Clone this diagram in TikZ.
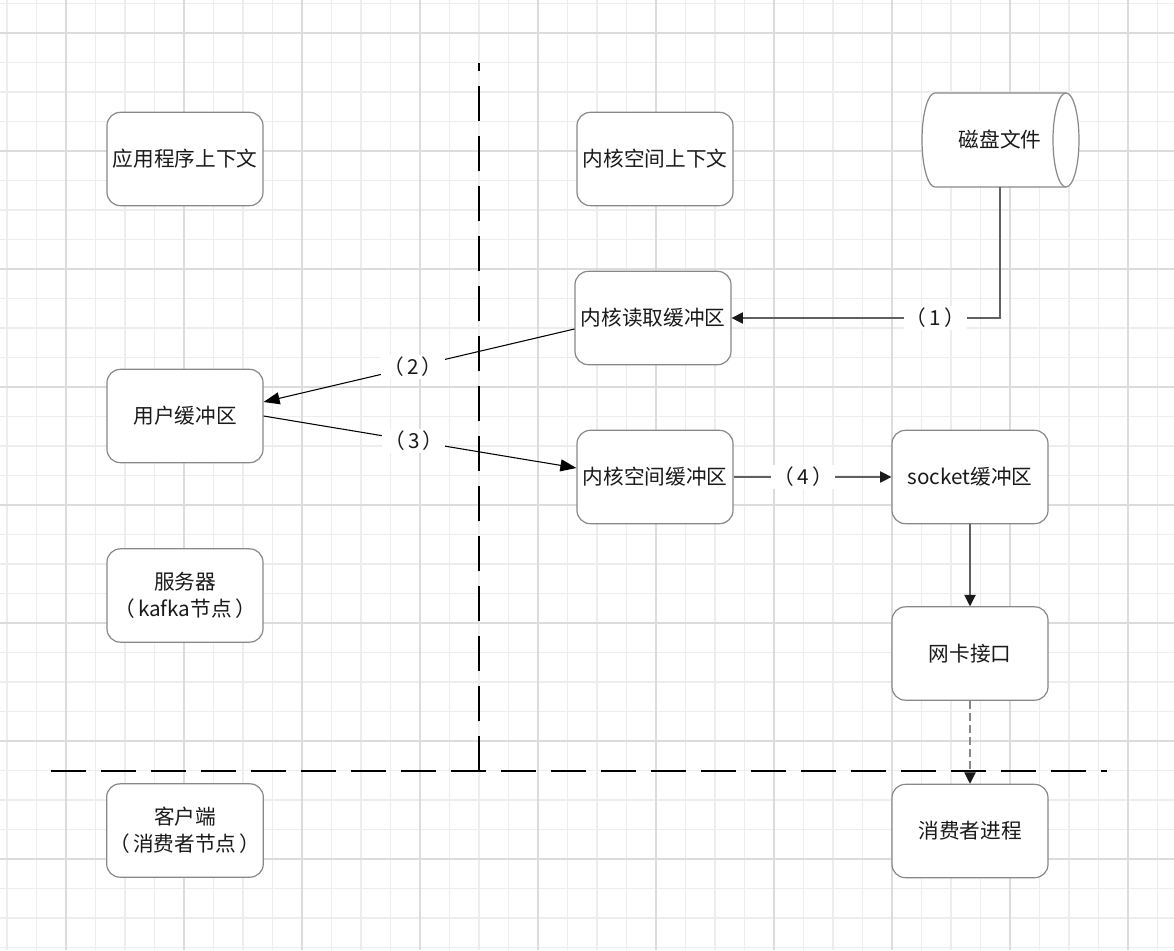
\documentclass[tikz,border=0pt]{standalone}
\usepackage{fontspec}
\setmainfont{Noto Sans CJK SC}
\usetikzlibrary{arrows.meta,calc}
\definecolor{minorg}{HTML}{EDEDED}
\definecolor{majorg}{HTML}{DCDCDC}
\definecolor{boxc}{HTML}{888888}
\definecolor{txt}{HTML}{1A1A1A}
\definecolor{linec}{HTML}{606060}
\newcommand{\lp}{（\kern2.5pt}
\newcommand{\rp}{\kern2.5pt）}
\begin{document}
\begin{tikzpicture}[x=0.75pt,y=-0.75pt,
  box/.style={draw=boxc,line width=0.9pt,rounded corners=10pt,fill=white,minimum width=117pt,minimum height=70pt,align=center,text=txt,font=\fontsize{15.5}{20.5}\selectfont,inner sep=2pt},
  disktext/.style={minimum width=117pt,minimum height=70.5pt,align=center,text=txt,font=\fontsize{15.5}{20.5}\selectfont,inner sep=2pt},
  lbl/.style={fill=white,text=txt,font=\fontsize{15.5}{20.5}\selectfont,inner sep=1.5pt},
  arr/.style={draw=linec,line width=0.8pt,-{Triangle[length=8.5pt,width=8.5pt,color=txt]}},
  arrb/.style={draw=black,line width=0.8pt,-{Triangle[length=12pt,width=9pt,color=black]}},
  divider/.style={line width=1.5pt,dash pattern=on 26.25pt off 11.25pt}
]
\useasboundingbox (0,0) rectangle (1174,950);
\fill[white] (0,0) rectangle (1174,950);
% grid
\foreach \i in {0,...,39} \draw[minorg,line width=0.8pt] ({7+29.5*\i},0) -- ++(0,950);
\foreach \i in {0,...,32} \draw[minorg,line width=0.8pt] (0,{3.5+29.5*\i}) -- ++(1174,0);
\foreach \i in {0,...,9} \draw[majorg,line width=1pt] ({66+118*\i},0) -- ++(0,950);
\foreach \i in {0,...,7} \draw[majorg,line width=1pt] (0,{33+118*\i}) -- ++(1174,0);
% dividers
\draw[divider] (479,771) -- (479,63);
\draw[divider] (51,771) -- (1107,771);
% boxes
\node[box] (app) at (185,159) {应用程序上下文};
\node[box] (kctx) at (655,159) {内核空间上下文};
\node[box] (kread) at (653,318) {内核读取缓冲区};
\node[box] (user) at (185,416) {用户缓冲区};
\node[box] (kspace) at (655,477) {内核空间缓冲区};
\node[box] (sock) at (970,477) {socket缓冲区};
\node[box] (nic) at (970,653.5) {网卡接口};
\node[box] (cons) at (970,831) {消费者进程};
\node[box] (server) at (185,595.5) {服务器\\\lp kafka节点\rp};
\node[box] (client) at (185,830.5) {客户端\\\lp 消费者节点\rp};
% disk cylinder
\draw[boxc,line width=0.9pt,fill=white] (1066,93) -- (935,93)
  arc[start angle=90,end angle=270,x radius=9.75pt,y radius=35.25pt] -- (1066,187);
\draw[boxc,line width=0.9pt,fill=white] (1066,140) ellipse[x radius=9.75pt,y radius=35.25pt];
\node[disktext] (disk) at (1000,140) {磁盘文件};
% connectors
\draw[arr] (disk.south) |- node[lbl,pos=0.62]{\lp 1\rp} (kread.east);
\draw[arrb] ($(kread.west)+(0,11)$) -- node[lbl,pos=0.52]{\lp 2\rp} ($(user.east)+(0,-14)$);
\draw[arrb] (user.east) -- node[lbl,pos=0.48]{\lp 3\rp} ($(kspace.west)+(0,-9)$);
\draw[arr] (kspace.east) -- node[lbl,pos=0.44]{\lp 4\rp} (sock.west);
\draw[arr] (sock.south) -- (nic.north);
\draw[arr,draw=boxc,dash pattern=on 6pt off 3pt] (nic.south) -- (cons.north);
\end{tikzpicture}
\end{document}
